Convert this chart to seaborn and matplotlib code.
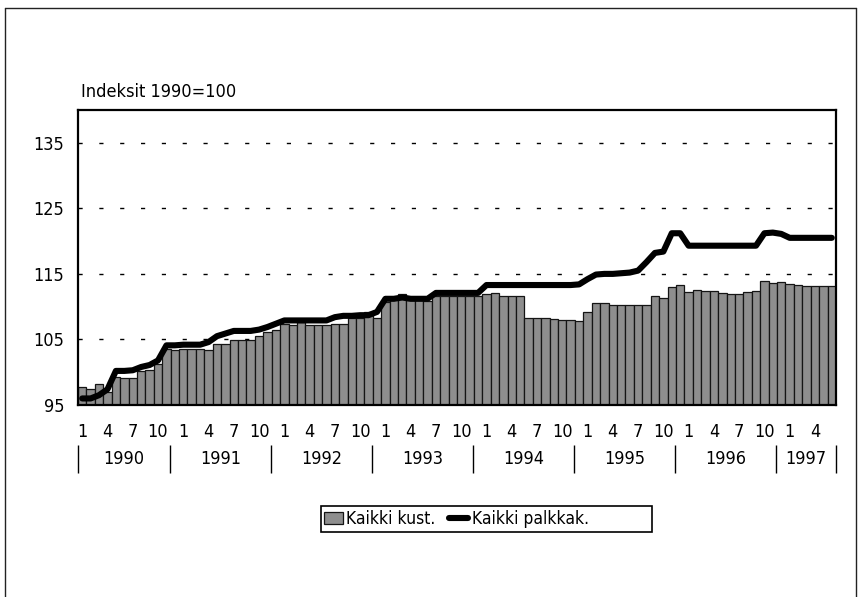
import matplotlib.pyplot as plt
import pandas as pd
import seaborn as sns
from matplotlib import font_manager

sns.set_style('white')

# kapea fontti jos löytyy
nimet = {f.name for f in font_manager.fontManager.ttflist}
kapeat = [(f.name, f.stretch) for f in font_manager.fontManager.ttflist
          if 'condensed' in str(f.stretch) or 'Narrow' in f.name or 'Condensed' in f.name]
if 'Liberation Sans Narrow' in nimet:
    plt.rcParams['font.family'] = ['Liberation Sans Narrow', 'DejaVu Sans']
elif kapeat:
    plt.rcParams['font.family'] = [kapeat[0][0], 'DejaVu Sans']
    plt.rcParams['font.stretch'] = 'condensed'
else:
    plt.rcParams['font.family'] = ['Roboto', 'DejaVu Sans']
plt.rcParams['text.color'] = 'black'
plt.rcParams['xtick.color'] = 'black'
plt.rcParams['ytick.color'] = 'black'

# Kuukausittaiset indeksit 1/1990 - 6/1997 (1990=100)
vuodet = ['1990', '1991', '1992', '1993', '1994', '1995', '1996', '1997']
kuukausi_tikit = ['1', '4', '7', '10']

kaikki_kust = [
    97.8, 97.5, 98.2, 97.0, 99.3, 99.1, 99.1, 100.2, 100.3, 101.3, 103.6, 103.4,
    103.6, 103.6, 103.6, 103.4, 104.3, 104.3, 104.9, 104.9, 104.9, 105.5, 106.2, 106.4,
    107.3, 107.2, 107.6, 107.2, 107.2, 107.2, 107.3, 107.3, 108.2, 108.2, 109.2, 108.2,
    110.7, 111.2, 111.9, 111.0, 111.0, 110.9, 111.7, 111.7, 111.7, 111.6, 111.6, 111.6,
    112.0, 112.1, 111.7, 111.6, 111.6, 108.3, 108.3, 108.2, 108.1, 107.9, 107.9, 107.8,
    109.2, 110.5, 110.5, 110.3, 110.3, 110.3, 110.3, 110.2, 111.6, 111.3, 113.0, 113.3,
    112.2, 112.6, 112.4, 112.4, 112.1, 111.9, 111.9, 112.2, 112.4, 113.9, 113.6, 113.8,
    113.5, 113.3, 113.1, 113.1, 113.1, 113.2,
]

kaikki_palkkak = [
    96.0, 96.0, 96.5, 97.4, 100.2, 100.2, 100.3, 100.8, 101.1, 101.8, 104.1, 104.1,
    104.2, 104.2, 104.2, 104.6, 105.5, 105.9, 106.3, 106.3, 106.3, 106.5, 106.9, 107.4,
    107.9, 107.9, 107.9, 107.9, 107.9, 107.9, 108.4, 108.6, 108.6, 108.7, 108.7, 109.2,
    111.2, 111.2, 111.4, 111.2, 111.2, 111.2, 112.1, 112.1, 112.1, 112.1, 112.1, 112.1,
    113.3, 113.3, 113.3, 113.3, 113.3, 113.3, 113.3, 113.3, 113.3, 113.3, 113.3, 113.4,
    114.2, 114.9, 115.0, 115.0, 115.1, 115.2, 115.5, 116.8, 118.2, 118.4, 121.2, 121.2,
    119.3, 119.3, 119.3, 119.3, 119.3, 119.3, 119.3, 119.3, 119.3, 121.2, 121.3, 121.1,
    120.5, 120.5, 120.5, 120.5, 120.5, 120.5,
]

df = pd.DataFrame({
    'kk': range(len(kaikki_kust)),
    'kust': kaikki_kust,
    'palkkak': kaikki_palkkak,
})

W, H = 861, 597
fig = plt.figure(figsize=(W / 100, H / 100), dpi=100)
fig.patch.set_facecolor('white')
ax = fig.add_axes([78 / W, 1 - 405 / H, 758 / W, 295 / H])

# kehys kuvan ympäri (ylä, vasen, oikea)
for xs, ys in [([5, 856], [8, 8]), ([5, 5], [8, 597]), ([856, 856], [8, 597])]:
    fig.add_artist(plt.Line2D([x / W for x in xs], [1 - y / H for y in ys],
                              transform=fig.transFigure, color='#222222', linewidth=1.0))

# katkoviivat taustalle
for y in [105, 115, 125, 135]:
    ax.axhline(y, color='black', linewidth=1.0, dashes=(3, 12), zorder=0)

sns.barplot(data=df, x='kk', y='kust', color='#8e8e8e', saturation=1, width=1.0,
            edgecolor='#151515', linewidth=0.9, ax=ax, zorder=2, label='Kaikki kust.')
sns.lineplot(data=df, x='kk', y='palkkak', color='black', linewidth=4.4, ax=ax,
             zorder=3, label='Kaikki palkkak.')

ax.set_ylim(95, 140)
ax.set_xlim(-0.5, len(df) - 0.5)
ax.set_yticks([95, 105, 115, 125, 135])
ax.tick_params(axis='y', length=0, pad=10, labelsize=13)

# kuukausitikit 1, 4, 7, 10
pos = [i for i in range(len(df)) if i % 3 == 0]
ax.set_xticks(pos)
ax.set_xticklabels([kuukausi_tikit[(i % 12) // 3] for i in pos])
ax.tick_params(axis='x', length=0, pad=13, labelsize=13)
ax.set_xlabel('')
ax.set_ylabel('')

for s in ax.spines.values():
    s.set_color('black')
    s.set_linewidth(1.6)

# vuosien erottimet ja nimet
trans = ax.get_xaxis_transform()
erottimet = [-0.5] + [12 * k - 1.6 for k in range(1, 8)] + [len(df) - 0.5]
ax.vlines(erottimet, -0.232, -0.135, transform=trans, color='black', linewidth=1.0, clip_on=False)
for k, v in enumerate(vuodet):
    ax.text((erottimet[k] + erottimet[k + 1]) / 2, -0.183, v, transform=trans,
            ha='center', va='center', fontsize=13)

fig.text(81 / W, 1 - 97 / H, 'Indeksit 1990=100', fontsize=13, va='baseline', ha='left')

# legenda: palkit ensin, sitten viiva; kehys leveämpi kuin sisältö
h, l = ax.get_legend_handles_labels()
jarj = [l.index('Kaikki kust.'), l.index('Kaikki palkkak.')]
leg = ax.legend([h[i] for i in jarj], [l[i] for i in jarj], loc='center left',
                bbox_to_anchor=(308 / W, 1 - 519 / H), bbox_transform=fig.transFigure,
                ncol=2, frameon=False, fontsize=12.5, handlelength=1.1,
                handletextpad=0.2, columnspacing=0.8)
fig.add_artist(plt.Rectangle((321 / W, 1 - 532 / H), 331 / W, 26 / H, transform=fig.transFigure,
                             fill=False, edgecolor='black', linewidth=1.2))

fig.savefig('out.png', dpi=100)
